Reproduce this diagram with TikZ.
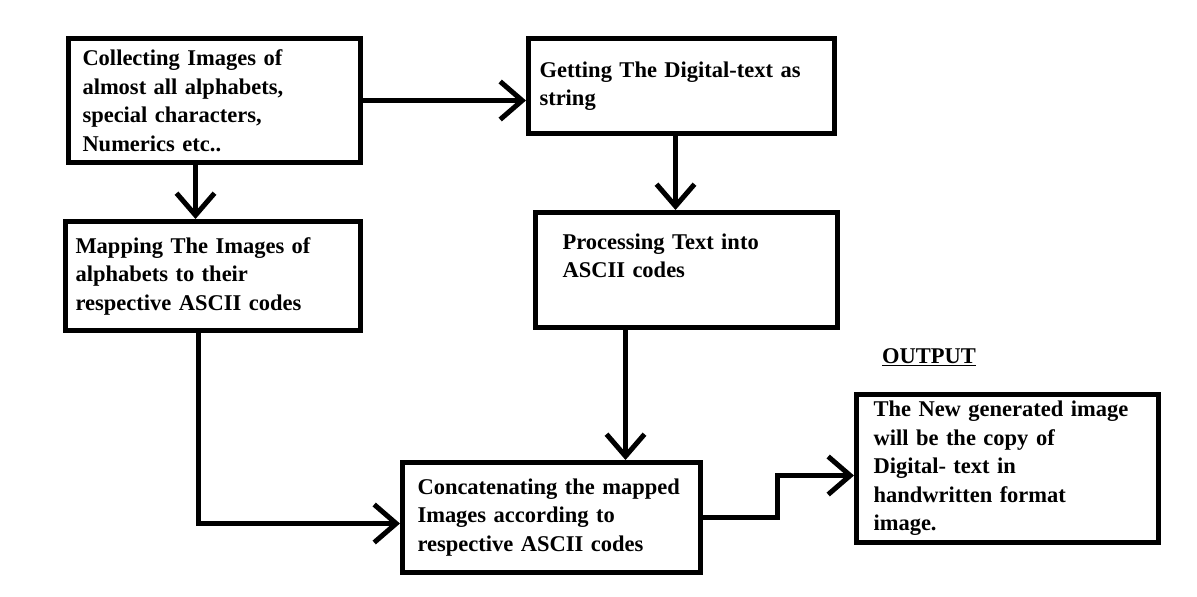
\documentclass[tikz,border=0pt]{standalone}
\usepackage{fontspec}
\setmainfont{Liberation Serif}
\usetikzlibrary{arrows.meta}
\usetikzlibrary{positioning}

\begin{document}
\begin{tikzpicture}[x=1pt, y=-1pt, >={Straight Barb[length=22pt,width=38pt]},
                    line width=5pt,
                    stage/.style = {rectangle, draw, align=left, anchor=north west,
                                    font=\bfseries\fontsize{22.5}{28.5}\selectfont},
                    flow/.style = {->}]
  \useasboundingbox (0,0) rectangle (1197,597);
  \node [stage, minimum width=292, minimum height=124, inner xsep=14, text width=264] (collect) at (66,36)
    {Collecting Images of\\almost all alphabets,\\special characters,\\Numerics etc..};
  \node [stage, minimum width=306, minimum height=95, inner xsep=11, text width=284] (digital) at (526,36)
    {Getting The Digital-text as\\string};
  \node [stage, minimum width=295, minimum height=109, inner xsep=10, text width=275] (mapping) at (63,219)
    {Mapping The Images of\\alphabets to their\\respective ASCII codes};
  \node [stage, minimum width=302, minimum height=115, inner xsep=27, text width=248] (process) at (533,210)
    {Processing Text into\\ASCII codes\\ \mbox{}};
  \node [stage, minimum width=298, minimum height=110, inner xsep=15, text width=268] (concat) at (400,460)
    {Concatenating the mapped\\Images according to\\respective ASCII codes};
  \node [stage, minimum width=302, minimum height=148, inner xsep=17, text width=268] (output) at (854,392)
    {The New generated image\\will be the copy of\\Digital- text in\\handwritten format\\image.};
  \node [font=\bfseries\fontsize{22.5}{28.5}\selectfont] (outlabel) at (929,357) {\underline{OUTPUT}};

  \draw [flow] (collect.east) -- (digital.west |- collect.east);
  \draw [flow] ([xshift=-19pt]collect.south) -- ([xshift=-19pt]collect.south |- mapping.north);
  \draw [flow] ([xshift=-6pt]digital.south) -- ([xshift=-6pt]digital.south |- process.north);
  \draw [flow] ([xshift=-15pt]mapping.south) |- ([yshift=-6pt]concat.west);
  \draw [flow] ([xshift=-61pt]process.south) -- ([xshift=-61pt]process.south |- concat.north);
  \draw [flow] (concat.east) -- ++(74,0) |- ([yshift=-7pt]output.west);
\end{tikzpicture}
\end{document}
